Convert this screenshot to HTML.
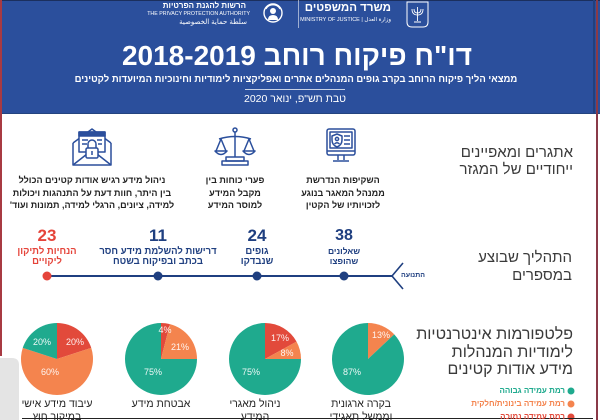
<!DOCTYPE html>
<html lang="he">
<head>
<meta charset="utf-8">
<style>
  html,body{margin:0;padding:0;background:#fff;}
  #w{position:relative;width:600px;height:420px;overflow:hidden;background:#fff;font-family:"Liberation Sans","DejaVu Sans",sans-serif;}
  .t{position:absolute;white-space:nowrap;direction:rtl;}
  .c{text-align:center;}
  .r{text-align:right;}
  svg{position:absolute;left:0;top:0;}
</style>
</head>
<body>
<div id="w">
  <div style="position:absolute;left:0;top:0;width:600px;height:114px;background:#2B4F9C;"></div>
  <div style="position:absolute;left:0;top:0;width:600px;height:1px;background:#1b2f5e;"></div>
  <div style="position:absolute;left:0;top:113px;width:600px;height:1px;background:#24447f;"></div>

  <svg width="600" height="420" viewBox="0 0 600 420">
    <rect x="0" y="0" width="2" height="356" fill="#A83A42"/>
    <rect x="593" y="0" width="2" height="114" fill="#22407e"/>
    <rect x="596" y="0" width="2" height="420" fill="#8A3A48"/>
    <path d="M0,358 L12,358 Q19,358 19,365 L19,420 L0,420 Z" fill="#e4e4e4"/>

    <line x1="298.5" y1="0" x2="298.5" y2="28" stroke="rgba(255,255,255,0.55)" stroke-width="1"/>
    <path d="M407,2 L428,2 L428,22 Q428,27 423,27 L412,27 Q407,27 407,22 Z" fill="none" stroke="#fff" stroke-width="1"/>
    <path d="M417.5,7 L417.5,21 M412,9 Q412,15 417.5,15 Q423,15 423,9 M414,9 Q414,13 417.5,13 Q421,13 421,9 M414,22 L421,22" fill="none" stroke="#fff" stroke-width="0.9"/>
    <circle cx="273" cy="13" r="9" fill="none" stroke="#fff" stroke-width="1.4"/>
    <path d="M266,9 A8,8 0 0 1 280,9" fill="none" stroke="#fff" stroke-width="1"/>
    <circle cx="273" cy="11" r="3" fill="#fff"/>
    <path d="M268,20 Q268,15 273,15 Q278,15 278,20 Z" fill="#fff"/>
    <line x1="245" y1="89.5" x2="345" y2="89.5" stroke="rgba(255,255,255,0.75)" stroke-width="1"/>

    <g fill="none" stroke="#2B4F9C" stroke-width="1.5" stroke-linejoin="round">
      <path d="M73,143 L92,129 L111,143"/>
      <rect x="79" y="132" width="26" height="20" fill="#fff"/>
      <rect x="79" y="132" width="26" height="4" fill="#2B4F9C"/>
      <line x1="82" y1="140" x2="88" y2="140"/>
      <line x1="97" y1="140" x2="102" y2="140"/>
      <line x1="82" y1="144" x2="87" y2="144"/>
      <line x1="98" y1="144" x2="102" y2="144"/>
      <path d="M73,143 L73,165 L111,165 L111,143"/>
      <path d="M73,165 L87,154 M111,165 L97,154"/>
      <path d="M88,148 L88,144 A4,4 0 0 1 96,144 L96,148"/>
      <rect x="86" y="148" width="12" height="10" rx="1.5" fill="#fff"/>
      <line x1="92" y1="151" x2="92" y2="155"/>
    </g>

    <g fill="none" stroke="#2B4F9C" stroke-width="1.5" stroke-linejoin="round">
      <circle cx="235" cy="130" r="2"/>
      <line x1="235" y1="132" x2="235" y2="157"/>
      <path d="M219,139 Q235,134 251,139"/>
      <path d="M221,139 L216,151 M221,139 L226,151"/>
      <path d="M249,139 L244,151 M249,139 L254,151"/>
      <path d="M215,151 Q221,158 227,151 Z"/>
      <path d="M243,151 Q249,158 255,151 Z"/>
      <rect x="226" y="157" width="18" height="4"/>
      <rect x="222" y="161" width="26" height="4"/>
    </g>

    <g fill="none" stroke="#2B4F9C" stroke-width="1.5" stroke-linejoin="round">
      <rect x="327" y="129" width="28" height="26" rx="2"/>
      <line x1="327" y1="151" x2="355" y2="151"/>
      <rect x="330" y="132" width="22" height="16"/>
      <path d="M337,134 L342,136 L342,140 Q342,145 337,147 Q332,145 332,140 L332,136 Z"/>
      <circle cx="337" cy="139" r="1.6"/>
      <path d="M334.5,144 Q337,141.5 339.5,144"/>
      <line x1="344" y1="136" x2="350" y2="136"/>
      <line x1="344" y1="140" x2="350" y2="140"/>
      <line x1="344" y1="144" x2="350" y2="144"/>
      <path d="M338,155 L338,160 M344,155 L344,160"/>
      <line x1="333" y1="161" x2="349" y2="161"/>
    </g>

    <line x1="47" y1="276" x2="392" y2="276" stroke="#1F3F80" stroke-width="2"/>
    <path d="M403,263 L392,276 L403,289" fill="none" stroke="#1F3F80" stroke-width="1.6"/>
    <circle cx="47" cy="276" r="4.5" fill="#E5443A"/>
    <circle cx="158" cy="276" r="4.5" fill="#1F3F80"/>
    <circle cx="257" cy="276" r="4.5" fill="#1F3F80"/>
    <circle cx="344" cy="276" r="4.5" fill="#1F3F80"/>

    <path d="M57,359 L57,323 A36,36 0 0 1 91.24,347.88 Z" fill="#E24A3B"/>
    <path d="M57,359 L91.24,347.88 A36,36 0 1 1 22.76,347.88 Z" fill="#F4844E"/>
    <path d="M57,359 L22.76,347.88 A36,36 0 0 1 57,323 Z" fill="#1FAA8E"/>
    <path d="M161,359 L161,323 A36,36 0 0 1 169.95,324.13 Z" fill="#E24A3B"/>
    <path d="M161,359 L169.95,324.13 A36,36 0 0 1 197,359 Z" fill="#F4844E"/>
    <path d="M161,359 L197,359 A36,36 0 1 1 161,323 Z" fill="#1FAA8E"/>
    <path d="M265,359 L265,323 A36,36 0 0 1 296.55,341.66 Z" fill="#E24A3B"/>
    <path d="M265,359 L296.55,341.66 A36,36 0 0 1 301,359 Z" fill="#F4844E"/>
    <path d="M265,359 L301,359 A36,36 0 1 1 265,323 Z" fill="#1FAA8E"/>
    <path d="M368,359 L368,323 A36,36 0 0 1 394.24,334.36 Z" fill="#F4844E"/>
    <path d="M368,359 L394.24,334.36 A36,36 0 1 1 368,323 Z" fill="#1FAA8E"/>

    <g font-family="Liberation Sans, DejaVu Sans, sans-serif" font-size="9" fill="#fff" fill-opacity="0.92" text-anchor="middle">
      <text x="75" y="345">20%</text>
      <text x="42" y="345">20%</text>
      <text x="50" y="375">60%</text>
      <text x="165" y="333">4%</text>
      <text x="180" y="350">21%</text>
      <text x="153" y="375">75%</text>
      <text x="280" y="341">17%</text>
      <text x="287" y="356">8%</text>
      <text x="251" y="375">75%</text>
      <text x="381" y="338">13%</text>
      <text x="352" y="375">87%</text>
    </g>

    <circle cx="571" cy="391" r="3.5" fill="#1FAA8E"/>
    <circle cx="571" cy="404" r="3.5" fill="#F4844E"/>
    <circle cx="571" cy="417" r="3.5" fill="#E24A3B"/>

    <line x1="22" y1="418.5" x2="593" y2="418.5" stroke="#222" stroke-width="1"/>
  </svg>

  <div class="t r" style="right:209px;top:1px;font-size:11.5px;font-weight:bold;color:#fff;line-height:14px;">משרד המשפטים</div>
  <div class="t r" style="right:209px;top:17px;font-size:5.5px;color:#fff;line-height:7px;direction:ltr;">MINISTRY OF JUSTICE | وزارة العدل</div>
  <div class="t r" style="right:354px;top:1px;font-size:8px;font-weight:bold;color:#fff;line-height:10px;">הרשות להגנת הפרטיות</div>
  <div class="t r" style="right:350px;top:11px;font-size:5.3px;color:#fff;line-height:7px;direction:ltr;">THE PRIVACY PROTECTION AUTHORITY</div>
  <div class="t r" style="right:353px;top:18px;font-size:7px;color:#fff;line-height:9px;">سلطة حماية الخصوصية</div>

  <div class="t c" style="left:0;top:40px;width:594px;font-size:28px;font-weight:bold;color:#fff;line-height:32px;">דו"ח פיקוח רוחב 2018-2019</div>
  <div class="t c" style="left:0;top:74px;width:592px;font-size:9.5px;font-weight:bold;color:#fff;line-height:12px;">ממצאי הליך פיקוח הרוחב בקרב גופים המנהלים אתרים ואפליקציות לימודיות וחינוכיות המיועדות לקטינים</div>
  <div class="t c" style="left:0;top:93px;width:590px;font-size:10.5px;color:#fff;line-height:13px;">טבת תש"פ, ינואר 2020</div>

  <div class="t r" style="right:27px;top:144px;font-size:15px;color:#3a3a3a;line-height:17px;">אתגרים ומאפיינים<br>ייחודיים של המגזר</div>
  <div class="t r" style="right:28px;top:249px;font-size:15px;color:#3a3a3a;line-height:17.5px;">התהליך שבוצע<br>במספרים</div>
  <div class="t r" style="right:27px;top:326px;font-size:16px;color:#3a3a3a;line-height:17.5px;">פלטפורמות אינטרנטיות<br>לימודיות המנהלות<br>מידע אודות קטינים</div>

  <div class="t c" style="left:2px;width:180px;top:174px;font-size:9px;font-weight:bold;color:#222;line-height:12.5px;">ניהול מידע רגיש אודות קטינים הכולל<br>בין היתר, חוות דעת על התנהגות ויכולות<br>למידה, ציונים, הרגלי למידה, תמונות ועוד'</div>
  <div class="t c" style="left:175px;width:120px;top:174px;font-size:9px;font-weight:bold;color:#222;line-height:12.5px;">פערי כוחות בין<br>מקבל המידע<br>למוסר המידע</div>
  <div class="t c" style="left:283px;width:120px;top:174px;font-size:9px;font-weight:bold;color:#222;line-height:12.5px;">השקיפות הנדרשת<br>ממנהל המאגר בנוגע<br>לזכויותיו של הקטין</div>

  <div class="t c" style="left:7px;width:80px;top:226px;font-size:17px;font-weight:bold;color:#E5443A;line-height:19px;">23</div>
  <div class="t c" style="left:7px;width:80px;top:247px;font-size:9.5px;font-weight:bold;color:#E5443A;line-height:9.5px;">הנחיות לתיקון<br>ליקויים</div>
  <div class="t c" style="left:88px;width:140px;top:226px;font-size:17px;font-weight:bold;color:#1F3F80;line-height:19px;">11</div>
  <div class="t c" style="left:88px;width:140px;top:247px;font-size:9.5px;font-weight:bold;color:#1F3F80;line-height:9.5px;">דרישות להשלמת מידע חסר<br>בכתב ובפיקוח בשטח</div>
  <div class="t c" style="left:217px;width:80px;top:226px;font-size:17px;font-weight:bold;color:#1F3F80;line-height:19px;">24</div>
  <div class="t c" style="left:217px;width:80px;top:247px;font-size:9.5px;font-weight:bold;color:#1F3F80;line-height:9.5px;">גופים<br>שנבדקו</div>
  <div class="t c" style="left:304px;width:80px;top:226px;font-size:16px;font-weight:bold;color:#1F3F80;line-height:19px;">38</div>
  <div class="t c" style="left:304px;width:80px;top:247px;font-size:8.5px;font-weight:bold;color:#1F3F80;line-height:9.5px;">שאלונים<br>שהופצו</div>
  <div class="t c" style="left:393px;width:40px;top:271px;font-size:7px;font-weight:bold;color:#1F3F80;line-height:9px;">התנועה</div>

  <div class="t c" style="left:12px;width:90px;top:398px;font-size:10.5px;color:#222;line-height:12.5px;">עיבוד מידע אישי<br>במיקור חוץ</div>
  <div class="t c" style="left:116px;width:90px;top:398px;font-size:10.5px;color:#222;line-height:12.5px;">אבטחת מידע</div>
  <div class="t c" style="left:210px;width:90px;top:398px;font-size:10.5px;color:#222;line-height:12.5px;">ניהול מאגרי<br>המידע</div>
  <div class="t c" style="left:316px;width:90px;top:398px;font-size:10.5px;color:#222;line-height:12.5px;">בקרה ארגונית<br>וממשל תאגידי</div>

  <div class="t r" style="right:35px;top:386px;font-size:8px;font-weight:bold;color:#1FAA8E;line-height:10px;">רמת עמידה גבוהה</div>
  <div class="t r" style="right:35px;top:399px;font-size:8px;font-weight:bold;color:#F4844E;line-height:10px;">רמת עמידה בינונית/חלקית</div>
  <div class="t r" style="right:35px;top:412px;font-size:8px;font-weight:bold;color:#E24A3B;line-height:10px;">רמת עמידה נמוכה</div>
</div>
</body>
</html>
